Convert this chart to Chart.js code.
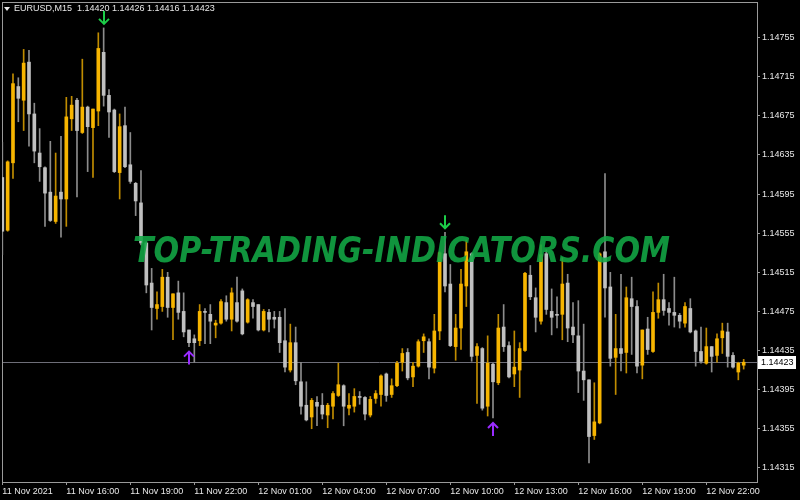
<!DOCTYPE html>
<html>
<head>
<meta charset="utf-8">
<script src="https://cdn.jsdelivr.net/npm/chart.js@4.4.0/dist/chart.umd.min.js"></script>
<style>
  html, body { margin: 0; padding: 0; background: #000; }
  #wrap { width: 800px; height: 500px; }
</style>
</head>
<body>
<div id="wrap"><canvas id="priceChart" width="800" height="500"></canvas></div>
<script>
// EURUSD M15 candles, 11 Nov 13:00 .. 12 Nov 23:45
const opens = [
  1.14612, 1.14558, 1.14627, 1.14705, 1.14691, 1.14730, 1.14677, 1.14637, 1.14622, 1.14597,
  1.14567, 1.14597, 1.14590, 1.14672, 1.14691, 1.14658, 1.14684, 1.14663, 1.14680, 1.14740,
  1.14696, 1.14681, 1.14617, 1.14665, 1.14625, 1.14606, 1.14586, 1.14545, 1.14504, 1.14478,
  1.14480, 1.14510, 1.14479, 1.14494, 1.14475, 1.14456, 1.14447, 1.14445, 1.14475, 1.14472,
  1.14461, 1.14463, 1.14484, 1.14467, 1.14484, 1.14496, 1.14464, 1.14484, 1.14482, 1.14456,
  1.14474, 1.14469, 1.14469, 1.14445, 1.14415, 1.14443, 1.14403, 1.14379, 1.14367, 1.14382,
  1.14379, 1.14369, 1.14378, 1.14389, 1.14399, 1.14376, 1.14378, 1.14388, 1.14387, 1.14369,
  1.14386, 1.14390, 1.14411, 1.14390, 1.14399, 1.14423, 1.14433, 1.14408, 1.14419, 1.14445,
  1.14444, 1.14417, 1.14455, 1.14534, 1.14503, 1.14439, 1.14458, 1.14501, 1.14534, 1.14430,
  1.14437, 1.14378, 1.14421, 1.14402, 1.14459, 1.14440, 1.14411, 1.14415, 1.14435, 1.14512,
  1.14489, 1.14465, 1.14534, 1.14475, 1.14472, 1.14472, 1.14504, 1.14459, 1.14450, 1.14414,
  1.14405, 1.14348, 1.14361, 1.14536, 1.14500, 1.14428, 1.14437, 1.14433, 1.14488, 1.14480,
  1.14420, 1.14457, 1.14434, 1.14474, 1.14487, 1.14478, 1.14474, 1.14471, 1.14463, 1.14478,
  1.14455, 1.14434, 1.14422, 1.14439, 1.14430, 1.14448, 1.14454, 1.14430, 1.14413, 1.14420
];
const highs = [
  1.14648, 1.14629, 1.14718, 1.14714, 1.14743, 1.14742, 1.14688, 1.14662, 1.14623, 1.14649,
  1.14637, 1.14654, 1.14694, 1.14695, 1.14693, 1.14733, 1.14685, 1.14682, 1.14760, 1.14765,
  1.14702, 1.14682, 1.14677, 1.14684, 1.14658, 1.14607, 1.14619, 1.14546, 1.14519, 1.14495,
  1.14518, 1.14515, 1.14493, 1.14506, 1.14494, 1.14456, 1.14451, 1.14482, 1.14478, 1.14482,
  1.14466, 1.14487, 1.14491, 1.14499, 1.14510, 1.14498, 1.14488, 1.14487, 1.14482, 1.14477,
  1.14477, 1.14475, 1.14475, 1.14478, 1.14462, 1.14459, 1.14423, 1.14403, 1.14386, 1.14388,
  1.14391, 1.14381, 1.14393, 1.14422, 1.14400, 1.14391, 1.14396, 1.14393, 1.14388, 1.14388,
  1.14394, 1.14410, 1.14412, 1.14406, 1.14424, 1.14437, 1.14437, 1.14423, 1.14446, 1.14452,
  1.14447, 1.14472, 1.14536, 1.14556, 1.14523, 1.14472, 1.14518, 1.14548, 1.14535, 1.14442,
  1.14438, 1.14450, 1.14422, 1.14472, 1.14482, 1.14444, 1.14455, 1.14443, 1.14515, 1.14522,
  1.14499, 1.14543, 1.14538, 1.14498, 1.14490, 1.14530, 1.14513, 1.14484, 1.14486, 1.14462,
  1.14405, 1.14402, 1.14535, 1.14616, 1.14515, 1.14472, 1.14513, 1.14500, 1.14510, 1.14486,
  1.14456, 1.14469, 1.14495, 1.14504, 1.14513, 1.14484, 1.14510, 1.14473, 1.14484, 1.14488,
  1.14456, 1.14459, 1.14458, 1.14439, 1.14452, 1.14463, 1.14463, 1.14433, 1.14423, 1.14426
];
const lows = [
  1.14533, 1.14557, 1.14611, 1.14669, 1.14660, 1.14644, 1.14627, 1.14608, 1.14562, 1.14567,
  1.14565, 1.14551, 1.14562, 1.14660, 1.14592, 1.14657, 1.14618, 1.14612, 1.14665, 1.14685,
  1.14653, 1.14617, 1.14590, 1.14622, 1.14606, 1.14573, 1.14543, 1.14494, 1.14456, 1.14467,
  1.14475, 1.14469, 1.14446, 1.14467, 1.14449, 1.14439, 1.14423, 1.14440, 1.14442, 1.14442,
  1.14448, 1.14462, 1.14465, 1.14455, 1.14464, 1.14451, 1.14463, 1.14468, 1.14455, 1.14455,
  1.14454, 1.14458, 1.14433, 1.14413, 1.14413, 1.14400, 1.14370, 1.14363, 1.14355, 1.14358,
  1.14365, 1.14356, 1.14365, 1.14388, 1.14358, 1.14369, 1.14372, 1.14380, 1.14364, 1.14367,
  1.14381, 1.14378, 1.14383, 1.14387, 1.14398, 1.14414, 1.14405, 1.14398, 1.14418, 1.14433,
  1.14406, 1.14412, 1.14446, 1.14495, 1.14439, 1.14425, 1.14436, 1.14480, 1.14424, 1.14381,
  1.14374, 1.14368, 1.14366, 1.14400, 1.14434, 1.14407, 1.14398, 1.14387, 1.14434, 1.14487,
  1.14454, 1.14462, 1.14472, 1.14451, 1.14458, 1.14446, 1.14444, 1.14443, 1.14392, 1.14384,
  1.14320, 1.14344, 1.14360, 1.14469, 1.14419, 1.14390, 1.14414, 1.14412, 1.14431, 1.14412,
  1.14406, 1.14431, 1.14433, 1.14468, 1.14471, 1.14461, 1.14459, 1.14458, 1.14459, 1.14453,
  1.14419, 1.14422, 1.14421, 1.14413, 1.14423, 1.14432, 1.14418, 1.14417, 1.14405, 1.14416
];
const closes = [
  1.14557, 1.14628, 1.14708, 1.14693, 1.14729, 1.14677, 1.14639, 1.14623, 1.14596, 1.14568,
  1.14593, 1.14590, 1.14674, 1.14686, 1.14660, 1.14684, 1.14664, 1.14682, 1.14744, 1.14696,
  1.14679, 1.14618, 1.14664, 1.14623, 1.14608, 1.14588, 1.14545, 1.14502, 1.14479, 1.14482,
  1.14510, 1.14479, 1.14493, 1.14474, 1.14454, 1.14443, 1.14443, 1.14475, 1.14474, 1.14465,
  1.14463, 1.14485, 1.14467, 1.14494, 1.14465, 1.14452, 1.14487, 1.14480, 1.14456, 1.14475,
  1.14467, 1.14467, 1.14443, 1.14418, 1.14443, 1.14404, 1.14378, 1.14364, 1.14384, 1.14378,
  1.14370, 1.14379, 1.14391, 1.14400, 1.14378, 1.14379, 1.14388, 1.14387, 1.14370, 1.14385,
  1.14391, 1.14409, 1.14389, 1.14399, 1.14422, 1.14432, 1.14407, 1.14419, 1.14444, 1.14449,
  1.14418, 1.14455, 1.14535, 1.14501, 1.14440, 1.14458, 1.14503, 1.14536, 1.14429, 1.14439,
  1.14376, 1.14422, 1.14403, 1.14458, 1.14439, 1.14408, 1.14418, 1.14437, 1.14514, 1.14490,
  1.14469, 1.14533, 1.14477, 1.14469, 1.14471, 1.14503, 1.14458, 1.14451, 1.14414, 1.14405,
  1.14347, 1.14362, 1.14534, 1.14499, 1.14427, 1.14437, 1.14432, 1.14489, 1.14480, 1.14419,
  1.14456, 1.14436, 1.14474, 1.14487, 1.14476, 1.14474, 1.14471, 1.14465, 1.14480, 1.14454,
  1.14434, 1.14424, 1.14439, 1.14429, 1.14447, 1.14455, 1.14429, 1.14418, 1.14422, 1.14423
];

// signal arrows (bar indexes)
const sellSignals = [19, 83];
const buySignals = [35, 92];

// axis ticks
const xTickIdx = [0, 12, 24, 36, 48, 60, 72, 84, 96, 108, 120, 132];
const xTickLabels = ['11 Nov 2021', '11 Nov 16:00', '11 Nov 19:00', '11 Nov 22:00', '12 Nov 01:00', '12 Nov 04:00',
  '12 Nov 07:00', '12 Nov 10:00', '12 Nov 13:00', '12 Nov 16:00', '12 Nov 19:00', '12 Nov 22:00'];
const yTicks = [1.14315, 1.14355, 1.14395, 1.14435, 1.14475, 1.14515, 1.14555, 1.14595, 1.14635, 1.14675, 1.14715, 1.14755];

const BULL = '#f7b500';
const BEAR = '#c0c0c0';
const BULL_WICK = '#c08c00';
const BEAR_WICK = '#8c8c8c';
const FRAME = '#9a9a9a';
const AXIS_FONT = { family: "'Liberation Sans', Arial, sans-serif", size: 9 };

const isBull = opens.map((o, i) => closes[i] >= o);

// keep the plot box fixed, the labels are allowed to stick out
function noPad(s) {
    s.paddingTop = 0;
    s.paddingBottom = 0;
    s.paddingLeft = 0;
    s.paddingRight = 0;
}

const chartPlugins = [{
    id: 'mtBackground',
    beforeDraw(chart) {
        const ctx = chart.ctx;
        ctx.save();
        ctx.fillStyle = '#000';
        ctx.fillRect(0, 0, chart.width, chart.height);
        ctx.restore();
    },
    beforeDatasetsDraw(chart) {
        const ctx = chart.ctx;
        const a = chart.chartArea;
        const y = chart.scales.y;
        ctx.save();
        // last price line
        const py = Math.round(y.getPixelForValue(closes[closes.length - 1])) + 0.5;
        ctx.strokeStyle = '#6e6e78';
        ctx.lineWidth = 1;
        ctx.beginPath();
        ctx.moveTo(a.left, py);
        ctx.lineTo(a.right, py);
        ctx.stroke();
        // frame
        ctx.strokeStyle = FRAME;
        ctx.strokeRect(a.left + 0.5, a.top + 0.5, a.right - a.left, a.bottom - a.top);
        ctx.restore();
    },
    afterDatasetsDraw(chart) {
        const ctx = chart.ctx;
        const x = chart.scales.x;
        const y = chart.scales.y;
        ctx.save();
        // watermark
        const text = 'TOP-TRADING-INDICATORS.COM';
        ctx.font = "italic bold 36px 'DejaVu Sans', sans-serif";
        const w = ctx.measureText(text).width;
        ctx.translate(133, 262);
        ctx.scale(537 / w, 1);
        ctx.fillStyle = 'rgba(18, 168, 70, 0.88)';
        ctx.textBaseline = 'alphabetic';
        ctx.fillText(text, 0, 0);
        ctx.setTransform(1, 0, 0, 1, 0, 0);

        // arrows
        ctx.lineWidth = 2;
        ctx.lineCap = 'butt';
        sellSignals.forEach(i => {
            const px = Math.round(x.getPixelForValue(i));
            const tip = y.getPixelForValue(highs[i]) - 4;
            ctx.strokeStyle = '#1ccd48';
            ctx.beginPath();
            ctx.moveTo(px, tip - 13);
            ctx.lineTo(px, tip);
            ctx.moveTo(px - 5, tip - 5);
            ctx.lineTo(px, tip);
            ctx.lineTo(px + 5, tip - 5);
            ctx.stroke();
        });
        buySignals.forEach(i => {
            const px = Math.round(x.getPixelForValue(i));
            const tip = y.getPixelForValue(lows[i]) + 5;
            ctx.strokeStyle = '#9a2cff';
            ctx.beginPath();
            ctx.moveTo(px, tip + 13);
            ctx.lineTo(px, tip);
            ctx.moveTo(px - 5, tip + 5);
            ctx.lineTo(px, tip);
            ctx.lineTo(px + 5, tip + 5);
            ctx.stroke();
        });
        ctx.restore();
    },
    afterDraw(chart) {
        const ctx = chart.ctx;
        const a = chart.chartArea;
        const y = chart.scales.y;
        const n = closes.length - 1;
        ctx.save();
        ctx.font = "9px 'Liberation Sans', Arial, sans-serif";
        ctx.textBaseline = 'middle';
        // header
        ctx.fillStyle = '#e8e8e8';
        ctx.beginPath();
        ctx.moveTo(4, 7);
        ctx.lineTo(10, 7);
        ctx.lineTo(7, 11);
        ctx.closePath();
        ctx.fill();
        const head = 'EURUSD,M15  ' + [opens[n], highs[n], lows[n], closes[n]].map(v => v.toFixed(5)).join(' ');
        ctx.fillText(head, 14, 9);
        // last price box
        const py = Math.round(y.getPixelForValue(closes[n]));
        ctx.fillStyle = '#ffffff';
        ctx.fillRect(a.right + 1, py - 6, 38, 13);
        ctx.fillStyle = '#000000';
        ctx.fillText(closes[n].toFixed(5), a.right + 4, py + 0.5);
        ctx.restore();
    }
}];

new Chart(document.getElementById('priceChart'), {
    type: 'bar',
    data: {
        datasets: [
            {
                label: 'body',
                data: opens.map((o, i) => ({ x: i, y: [o, closes[i]] })),
                backgroundColor: isBull.map(b => b ? BULL : BEAR),
                barThickness: 3,
                minBarLength: 1,
                borderWidth: 0,
                grouped: false
            },
            {
                label: 'wick',
                data: lows.map((l, i) => ({ x: i, y: [l, highs[i]] })),
                backgroundColor: isBull.map(b => b ? BULL_WICK : BEAR_WICK),
                barThickness: 1,
                borderWidth: 0,
                grouped: false
            }
        ]
    },
    options: {
        responsive: false,
        animation: false,
        layout: { padding: { top: 2, left: 2, right: 0, bottom: 0 } },
        plugins: {
            legend: { display: false },
            tooltip: { enabled: false }
        },
        scales: {
            x: {
                type: 'linear',
                min: -0.06,
                max: 141.5,
                offset: false,
                grid: { offset: false, drawOnChartArea: false, drawTicks: true, tickLength: 3, color: FRAME },
                border: { display: false },
                afterBuildTicks: s => { s.ticks = xTickIdx.map(v => ({ value: v })); },
                afterFit: s => { s.height = 18; noPad(s); },
                ticks: {
                    autoSkip: false,
                    maxRotation: 0,
                    minRotation: 0,
                    align: 'start',
                    padding: 1,
                    color: '#e8e8e8',
                    font: AXIS_FONT,
                    callback: (v, i) => xTickLabels[i]
                }
            },
            y: {
                position: 'right',
                min: 1.143005,
                max: 1.147915,
                grid: { drawOnChartArea: false, drawTicks: true, tickLength: 3, color: FRAME },
                border: { display: false },
                afterBuildTicks: s => { s.ticks = yTicks.map(v => ({ value: v })); },
                afterFit: s => { s.width = 43; noPad(s); },
                ticks: {
                    padding: 2,
                    color: '#e8e8e8',
                    font: AXIS_FONT,
                    callback: v => v.toFixed(5)
                }
            }
        }
    },
    plugins: chartPlugins
});
</script>
</body>
</html>
